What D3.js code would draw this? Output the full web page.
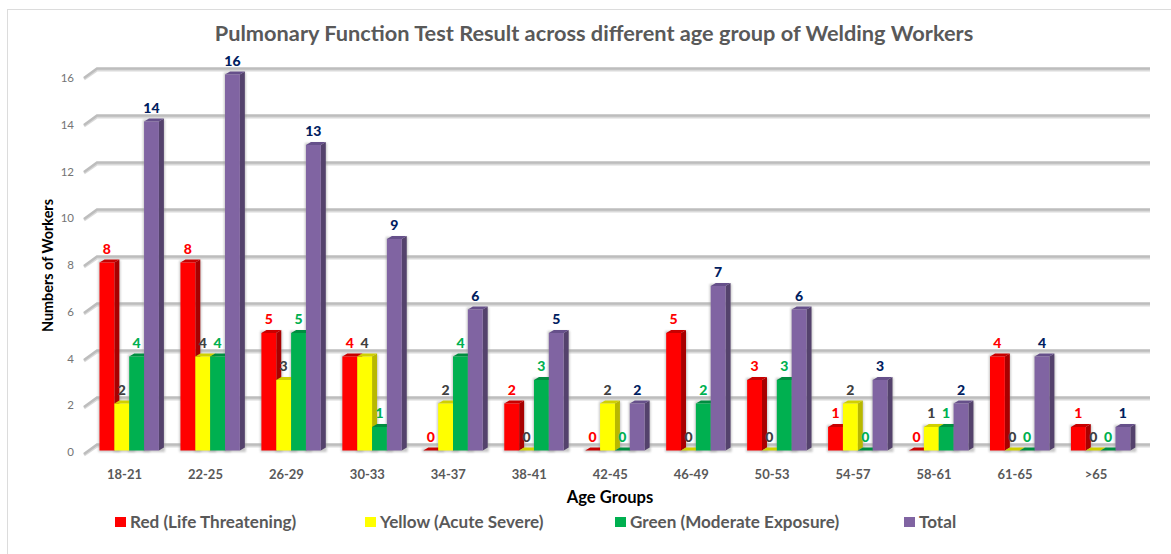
<!DOCTYPE html>
<html><head><meta charset="utf-8">
<script src="https://cdn.jsdelivr.net/npm/d3@7"></script>
<style>html,body{margin:0;padding:0;background:#fff;overflow:hidden}svg{display:block}text{font-family:Lato,"Open Sans",sans-serif}</style>
</head><body><svg id="c" width="1171" height="554"></svg>
<script>
const categories=["18-21","22-25","26-29","30-33","34-37","38-41","42-45","46-49","50-53","54-57","58-61","61-65",">65"];
const red=[8,8,5,4,0,2,0,5,3,1,0,4,1];
const yellow=[2,4,3,4,2,0,2,0,0,2,1,0,0];
const green=[4,4,5,1,4,3,0,2,3,0,1,0,0];
const total=[14,16,13,9,6,5,2,7,6,3,2,4,1];
const yTicks=[0,2,4,6,8,10,12,14,16];
const seriesNames=["Red (Life Threatening)","Yellow (Acute Severe)","Green (Moderate Exposure)","Total"];
const seriesFront=["#ff0000","#ffff00","#00b050","#8064a2"];
const seriesSide=["#a80000","#b8b800","#00743a","#54426c"];
const seriesTop=["#c80000","#d0d000","#008d40","#66508a"];
const labelColors=["#ff0000","#404040","#00b050","#002060"];
const series=[red,yellow,green,total];

const svg=d3.select("#c");
const defs=svg.append("defs");
const f=defs.append("filter").attr("id","sh").attr("x","-30%").attr("y","-30%").attr("width","160%").attr("height","160%");
f.append("feGaussianBlur").attr("stdDeviation",1.2);
const depthX=5, depthY=3;
const y=d3.scaleLinear().domain([0,16]).range([450.5,74.5]);
const yBack=d3.scaleLinear().domain([0,16]).range([444.5,68.5]);
const yLabel=d3.scaleLinear().domain([0,16]).range([456,82]);
const x0=d3.scaleBand().domain(categories).range([84.5,1136.9]).paddingInner(0);
const x1=d3.scaleBand().domain(d3.range(4)).range([15,15+59.4]);

svg.append("rect").attr("x",7.5).attr("y",9.5).attr("width",1200).attr("height",600).attr("fill","#fff").attr("stroke","#dcdcdc").attr("stroke-width",1);

// gridlines with their soft shadow
const gridShadow=svg.append("g").attr("fill","none").attr("stroke","#dadada").attr("stroke-width",3);
const grid=svg.append("g").attr("fill","none").attr("stroke","#bdbdbd").attr("stroke-width",2.6);
yTicks.forEach(t=>{
  const yy=yBack(t);
  gridShadow.append("path").attr("d",`M84,${yy+10.5}L97,${yy+1.5}L1150,${yy+1.5}`);
  grid.append("path").attr("d",`M84,${yy+9.5}L97,${yy}L1150,${yy}`);
});
// y axis labels
svg.append("g").selectAll("text").data(yTicks).join("text")
  .attr("x",74).attr("y",d=>yLabel(d)).attr("text-anchor","end")
  .attr("font-size",11.5).attr("fill","#747474").text(d=>d);

// bars
const bars=svg.append("g");
categories.forEach((c,i)=>{
  const g=bars.append("g").attr("transform",`translate(${x0(c)},0)`);
  series.forEach((s,k)=>{
    const v=s[i],xx=x1(k),w=x1.bandwidth(),yt=y(v),yb=y(0);
    g.append("rect").attr("x",xx-1).attr("y",yt-2).attr("width",w+depthX+2).attr("height",yb-yt+3.5)
      .attr("fill","#9a9a9a").attr("opacity",0.55).attr("filter","url(#sh)");
  });
  series.forEach((s,k)=>{
    const v=s[i],xx=x1(k),w=x1.bandwidth(),yt=y(v),yb=y(0);
    g.append("path").attr("fill",seriesSide[k])
      .attr("d",`M${xx+w},${yt}L${xx+w+depthX},${yt-depthY}L${xx+w+depthX},${yb-depthY}L${xx+w},${yb}Z`);
    g.append("path").attr("fill",seriesTop[k])
      .attr("d",`M${xx},${yt}L${xx+depthX},${yt-depthY}L${xx+w+depthX},${yt-depthY}L${xx+w},${yt}Z`);
    if(v>0) g.append("rect").attr("x",xx).attr("y",yt).attr("width",w).attr("height",yb-yt).attr("fill",seriesFront[k]);
  });
  series.forEach((s,k)=>{
    const v=s[i];
    g.append("text").attr("x",x1(k)+x1.bandwidth()/2).attr("y",y(v)-9)
      .attr("text-anchor","middle").attr("font-size",14).attr("font-weight",900)
      .attr("fill",labelColors[k]).text(v);
  });
  svg.append("text").attr("x",x0(c)+40).attr("y",479)
    .attr("text-anchor","middle").attr("font-size",13).attr("font-weight",700).attr("fill","#595959").text(c);
});

// titles
svg.append("text").attr("x",594).attr("y",41).attr("text-anchor","middle")
  .attr("font-size",21.75).attr("font-weight",700).attr("fill","#595959")
  .text("Pulmonary Function Test Result across different age group of Welding Workers");
svg.append("text").attr("x",610).attr("y",503).attr("text-anchor","middle")
  .attr("font-size",16.6).attr("font-weight",700).attr("fill","#000").text("Age Groups");
svg.append("text").attr("transform","translate(53,265.5) rotate(-90)").attr("text-anchor","middle")
  .attr("font-size",14.4).attr("font-weight",700).attr("fill","#000").text("Numbers of Workers");

// legend
const legendX=[115,365,615,904];
seriesNames.forEach((n,k)=>{
  svg.append("rect").attr("x",legendX[k]).attr("y",517).attr("width",11).attr("height",10).attr("fill",seriesFront[k]);
  svg.append("text").attr("x",legendX[k]+15).attr("y",528).attr("font-size",17.1).attr("font-weight",700)
    .attr("fill","#595959").text(n);
});
</script></body></html>
